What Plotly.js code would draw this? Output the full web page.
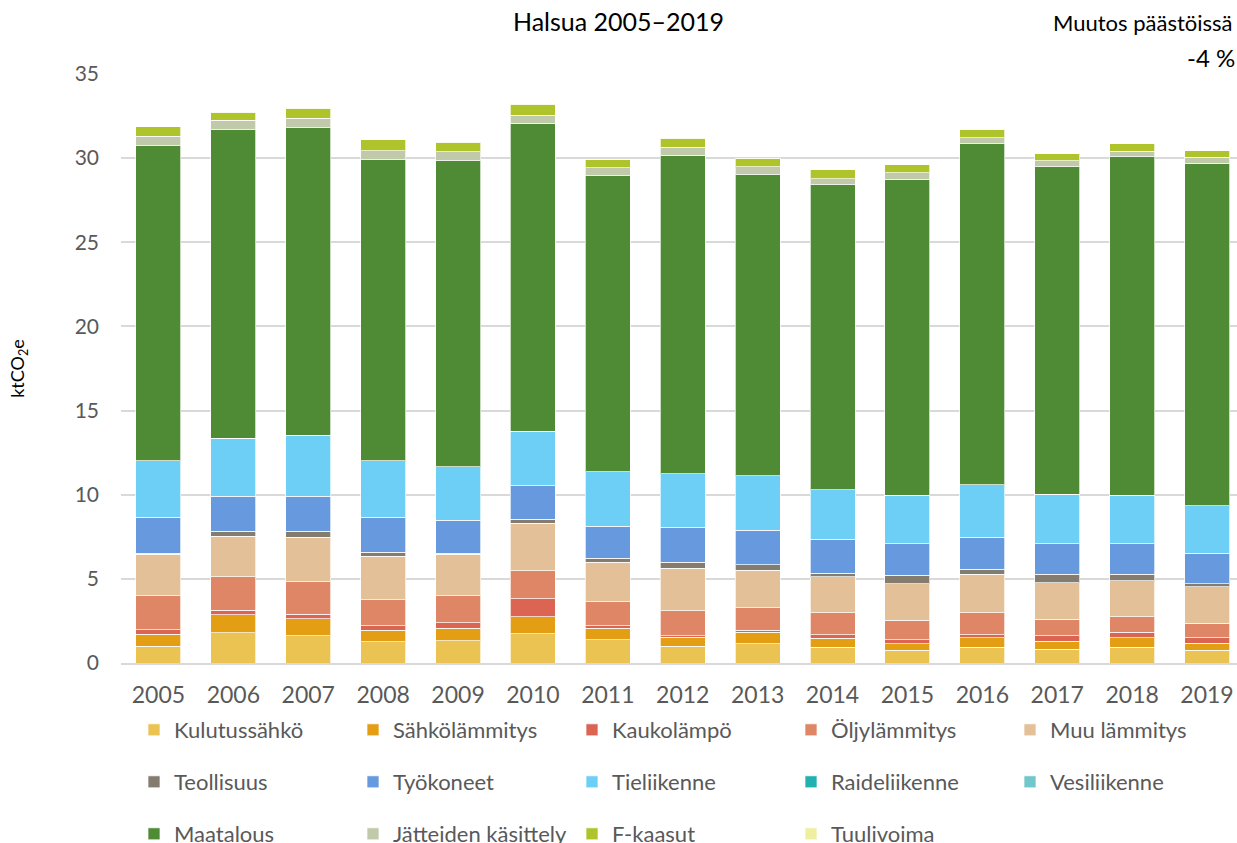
<!DOCTYPE html>
<html><head><meta charset="utf-8">
<script src="https://cdn.plot.ly/plotly-3.0.1.min.js"></script>
<style>body{margin:0;padding:0;background:#fff}#chart{width:1237px;height:843px}</style>
</head><body><div id="chart"></div>
<script>
const years = ['2005','2006','2007','2008','2009','2010','2011','2012','2013','2014','2015','2016','2017','2018','2019'];
const kulutussahko   = [1.01,1.79,1.61,1.25,1.31,1.73,1.37,1.01,1.13,0.95,0.77,0.95,0.83,0.95,0.77];
const sahkolammitys  = [0.70,1.07,1.01,0.71,0.77,1.01,0.71,0.52,0.70,0.52,0.38,0.54,0.46,0.54,0.40];
const kaukolampo     = [0.27,0.27,0.28,0.26,0.32,1.07,0.14,0.10,0.13,0.20,0.24,0.20,0.34,0.34,0.34];
const oljylammitys   = [2.01,2.01,1.94,1.53,1.59,1.67,1.41,1.47,1.31,1.31,1.15,1.29,0.97,0.91,0.85];
const muuLammitys    = [2.46,2.40,2.62,2.60,2.46,2.81,2.36,2.52,2.23,2.16,2.18,2.28,2.18,2.16,2.18];
const teollisuus     = [0.08,0.30,0.36,0.24,0.08,0.26,0.24,0.37,0.35,0.18,0.50,0.30,0.48,0.36,0.18];
const tyokoneet      = [2.12,2.08,2.10,2.06,1.96,1.99,1.89,2.07,2.03,2.02,1.88,1.90,1.84,1.84,1.79];
const tieliikenne    = [3.37,3.43,3.61,3.37,3.18,3.23,3.25,3.19,3.25,2.96,2.86,3.14,2.94,2.88,2.82];
const raideliikenne  = [0,0,0,0,0,0,0,0,0,0,0,0,0,0,0];
const vesiliikenne   = [0,0,0,0,0,0,0,0,0,0,0,0,0,0,0];
const maatalous      = [18.71,18.33,18.29,17.87,18.17,18.29,17.57,18.92,17.87,18.11,18.80,20.25,19.44,20.09,20.38];
const jatteet        = [0.57,0.57,0.55,0.56,0.55,0.49,0.50,0.48,0.50,0.38,0.38,0.37,0.38,0.34,0.34];
const fkaasut        = [0.58,0.48,0.60,0.65,0.54,0.65,0.45,0.53,0.48,0.51,0.48,0.50,0.39,0.46,0.40];
const tuulivoima     = [0,0,0,0,0,0,0,0,0,0,0,0,0,0,0];
const yTicks = [0,5,10,15,20,25,30,35];

const series = [
  ['Kulutussähkö', kulutussahko, '#EBC352', 'legend'],
  ['Sähkölämmitys', sahkolammitys, '#E49E14', 'legend'],
  ['Kaukolämpö', kaukolampo, '#DB6552', 'legend'],
  ['Öljylämmitys', oljylammitys, '#DF8666', 'legend'],
  ['Muu lämmitys', muuLammitys, '#E3C097', 'legend'],
  ['Teollisuus', teollisuus, '#847C6E', 'legend2'],
  ['Työkoneet', tyokoneet, '#6699DD', 'legend2'],
  ['Tieliikenne', tieliikenne, '#6DCFF6', 'legend2'],
  ['Raideliikenne', raideliikenne, '#22B0B0', 'legend2'],
  ['Vesiliikenne', vesiliikenne, '#72C7CA', 'legend2'],
  ['Maatalous', maatalous, '#4F8A35', 'legend3'],
  ['Jätteiden käsittely', jatteet, '#C0C9AA', 'legend3'],
  ['F-kaasut', fkaasut, '#AEC42A', 'legend3'],
  ['Tuulivoima', tuulivoima, '#EEF0A0', 'legend3']
];

const traces = series.map(s => ({
  type: 'bar', name: s[0], x: years, y: s[1], legend: s[3],
  marker: {color: s[2], line: {color: 'rgba(255,255,255,0.7)', width: 1}},
  hoverinfo: 'x+y+name'
}));

// paper spans y from 74 px (top margin) to 843 px (bottom)
const H = 843, T = 74, PH = H - T;
const py = p => (H - p) / PH;
const PW = 1116, L = 121;
const px = p => (p - L) / PW;

const FONT = 'Lato, "Open Sans", sans-serif';
const legBase = {orientation: 'h', xanchor: 'left', yanchor: 'middle', x: px(134),
  font: {family: FONT, size: 22, color: '#595959'}, entrywidth: 174, entrywidthmode: 'pixels',
  bgcolor: 'rgba(0,0,0,0)', traceorder: 'normal', itemclick: false, itemdoubleclick: false};

const layout = {
  width: 1237, height: 843,
  margin: {l: L, r: 0, t: T, b: 0, autoexpand: false},
  paper_bgcolor: '#fff', plot_bgcolor: '#fff',
  barmode: 'stack', bargap: 0.4,
  font: {family: FONT, color: '#595959'},
  title: {text: 'Halsua 2005–2019', x: 0.5, xref: 'container', y: 1 - 22/843, yref: 'container', yanchor: 'middle',
    font: {family: FONT, size: 25, color: '#000'}},
  xaxis: {type: 'category', range: [-0.5, 14.4], showgrid: false, showline: true, linecolor: '#D9D9D9', linewidth: 1.5,
    ticks: '', tickfont: {family: FONT, size: 23, color: '#595959'}, ticklabelstandoff: 11, fixedrange: true},
  yaxis: {domain: [py(663), 1], range: [0, 35], tickvals: yTicks, showgrid: true, gridcolor: '#D9D9D9', gridwidth: 1.5, zeroline: false,
    showline: false, ticks: '', tickfont: {family: FONT, size: 21, color: '#595959'}, ticklabelstandoff: 21,
    title: {text: 'ktCO<sub>2</sub>e', font: {family: FONT, size: 18, color: '#000'}, standoff: 45}, fixedrange: true},
  legend: Object.assign({}, legBase, {y: py(730)}),
  legend2: Object.assign({}, legBase, {y: py(782)}),
  legend3: Object.assign({}, legBase, {y: py(834)}),
  shapes: [{type: 'rect', xref: 'paper', yref: 'paper', x0: px(1148), x1: 1.01, y0: py(80), y1: 1.12,
    fillcolor: '#fff', line: {width: 0}, layer: 'above'}],
  annotations: [
    {text: 'Muutos päästöissä', xref: 'paper', yref: 'paper', x: px(1235), y: py(22),
      xanchor: 'right', yanchor: 'middle', showarrow: false, font: {family: FONT, size: 22, color: '#000'}},
    {text: '-4 %', xref: 'paper', yref: 'paper', x: px(1211), y: py(58),
      xanchor: 'center', yanchor: 'middle', showarrow: false, font: {family: FONT, size: 24, color: '#000'}}
  ]
};

Plotly.newPlot('chart', traces, layout, {displayModeBar: false, responsive: false});
</script></body></html>
